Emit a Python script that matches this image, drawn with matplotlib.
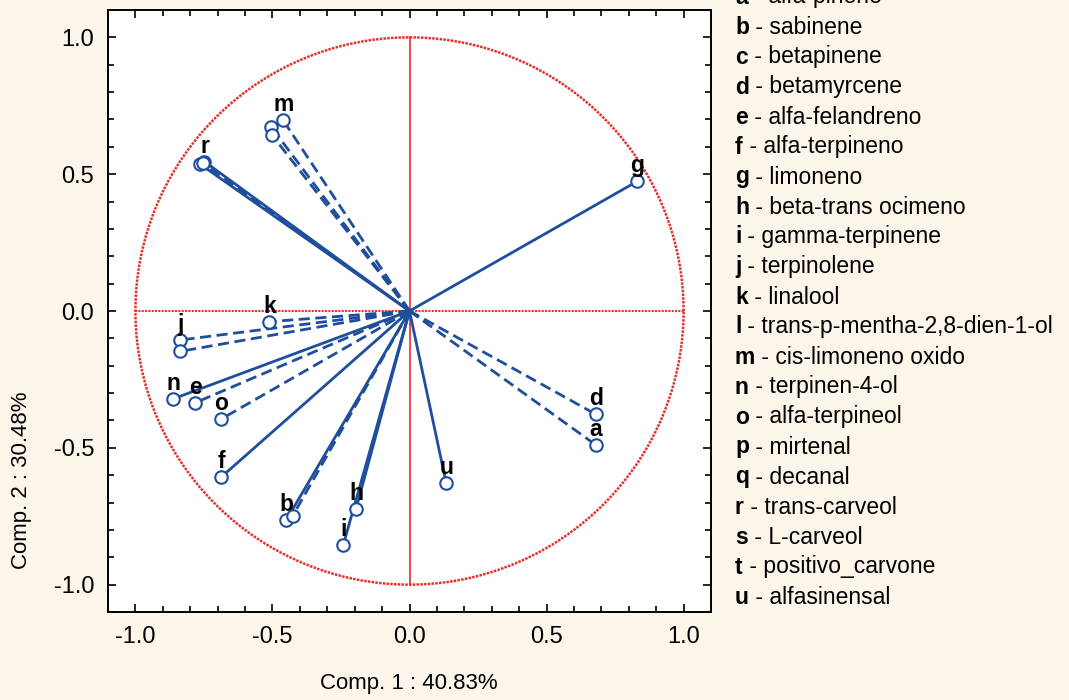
import numpy as np
import matplotlib.pyplot as plt
from matplotlib.ticker import MultipleLocator

plt.rcParams['font.family'] = ['Liberation Sans', 'DejaVu Sans']

letters = ['a', 'b', 'c', 'd', 'e', 'f', 'g', 'h', 'i', 'j', 'k',
           'l', 'm', 'n', 'o', 'p', 'q', 'r', 's', 't', 'u']
names = ['alfa-pinene', 'sabinene', 'betapinene', 'betamyrcene', 'alfa-felandreno',
         'alfa-terpineno', 'limoneno', 'beta-trans ocimeno', 'gamma-terpinene',
         'terpinolene', 'linalool', 'trans-p-mentha-2,8-dien-1-ol',
         'cis-limoneno oxido', 'terpinen-4-ol', 'alfa-terpineol', 'mirtenal',
         'decanal', 'trans-carveol', 'L-carveol', 'positivo_carvone', 'alfasinensal']
comp1 = [0.679, -0.449, -0.426, 0.679, -0.781, -0.687, 0.831, -0.195, -0.242, -0.836,
         -0.511, -0.505, -0.461, -0.862, -0.687, -0.501, -0.839, -0.748, -0.763,
         -0.755, 0.134]
comp2 = [-0.489, -0.763, -0.748, -0.377, -0.335, -0.607, 0.474, -0.723, -0.856, -0.106,
         -0.039, 0.673, 0.697, -0.321, -0.395, 0.642, -0.148, 0.546, 0.536,
         0.540, -0.629]
# labels hidden under neighbouring points in the original
shown = [True, True, False, True, True, True, True, True, True, True, True,
         False, True, True, True, False, False, True, False, False, True]
dashed = [True, False, True, True, True, False, False, False, False, True, True,
          True, True, False, True, True, True, False, False, True, False]

bg = '#fcf5e9'
blue = '#1f4e9c'
red = '#e3302b'

fig = plt.figure(figsize=(10.69, 7.0), dpi=100, facecolor=bg)
ax = fig.add_axes([108 / 1069, 1 - 612 / 700, 603 / 1069, 602 / 700])
ax.set_facecolor('white')

t = np.linspace(0, 2 * np.pi, 400)
ax.plot(np.cos(t), np.sin(t), color=red, lw=1.8, ls=(0, (1, 0.5)), zorder=1)
ax.plot([-1, 1], [0, 0], color=red, lw=1.5, ls=(0, (1, 0.6)), zorder=1)
ax.plot([0, 0], [-1, 1], color=red, lw=1.2, zorder=1)

for x, y, lt, sh, ds in zip(comp1, comp2, letters, shown, dashed):
    ax.plot([0, x], [0, y], color=blue, lw=2,
            ls=(0, (4, 2)) if ds else '-', zorder=2)
    ax.plot(x, y, 'o', ms=9, mfc='white', mec=blue, mew=1.5, zorder=3)
    if sh:
        ax.annotate(lt, (x, y), xytext=(0, 6.5), textcoords='offset points',
                    ha='center', va='baseline', fontsize=16.5, fontweight='bold')

ax.set_xlim(-1.1, 1.1)
ax.set_ylim(-1.1, 1.1)
ticks = [-1.0, -0.5, 0.0, 0.5, 1.0]
ax.set_xticks(ticks)
ax.set_yticks(ticks)
ax.set_xticklabels(['-1.0', '-0.5', '0.0', '0.5', '1.0'])
ax.set_yticklabels(['-1.0', '-0.5', '0.0', '0.5', '1.0'])
ax.xaxis.set_minor_locator(MultipleLocator(0.1))
ax.yaxis.set_minor_locator(MultipleLocator(0.1))
ax.tick_params(which='both', direction='in', top=True, right=True, width=1.2)
ax.tick_params(which='major', length=6, labelsize=17, pad=10)
ax.tick_params(which='minor', length=4)
for s in ax.spines.values():
    s.set_linewidth(1.4)

fig.text(409 / 1069, 1 - 683 / 700, 'Comp. 1 : 40.83%', ha='center', va='center',
         fontsize=16)
fig.text(22 / 1069, 1 - 480 / 700, 'Comp. 2 : 30.48%', ha='center', va='center',
         rotation=90, fontsize=16)

# legend of compounds
for i, (lt, nm) in enumerate(zip(letters, names)):
    yy = 1 - (-3 + 30 * i) / 700
    lab = fig.text(735 / 1069, yy, lt, ha='left', va='center', fontsize=16.5,
                   fontweight='bold')
    ax.annotate(' - ' + nm, xy=(1, 0.5), xycoords=lab, ha='left', va='center',
                fontsize=16.5, annotation_clip=False)

fig.savefig('out.png', dpi=100, facecolor=bg)
